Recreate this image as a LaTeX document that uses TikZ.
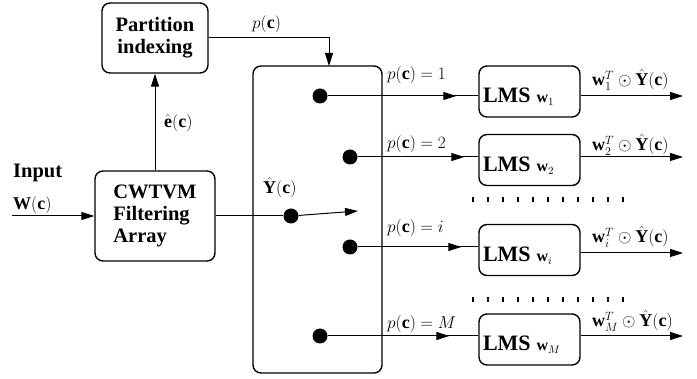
\documentclass[tikz,border=0pt]{standalone}
\usepackage{fontspec}
\setmainfont{Liberation Serif}
\usetikzlibrary{arrows.meta,decorations.markings}

\newcommand{\lmstext}[1]{{\fontsize{22}{24}\selectfont\bfseries LMS}\hspace{6pt}{\fontsize{16}{18}\selectfont$\mathbf{w}_{#1}$}}

\begin{document}
\begin{tikzpicture}[x=1pt,y=-1pt,
  blk/.style={draw,line width=1.4pt,rounded corners=8pt,inner sep=4pt},
  wire/.style={line width=1pt},
  tip/.style={-{Triangle[length=13pt,width=8pt]}},
  dotnode/.style={circle,fill=black,inner sep=0pt,minimum size=15pt},
  midtip/.style={postaction={decorate},decoration={markings,
      mark=at position #1 with {\arrow{Triangle[length=13pt,width=8pt]}}}},
  lbl/.style={inner sep=0pt,anchor=base west,font=\fontsize{18}{21}\selectfont},
  txt/.style={font=\fontsize{20.5}{22}\selectfont\bfseries},
  lms/.style={blk,minimum width=101pt,minimum height=51pt,text width=93pt,
      align=left,text height=23pt,text depth=0pt},
  tick/.style={line width=1.5pt}
]
\useasboundingbox (0,0) rectangle (697,379);

% processing blocks
\node[blk,txt,minimum width=106pt,minimum height=70pt,align=center] (part) at (155,38) {Partition\\indexing};
\node[blk,txt,minimum width=120pt,minimum height=90pt,align=left] (cwt) at (155,216) {CWTVM\\Filtering\\Array};
\node[blk,minimum width=129pt,minimum height=307pt] (sw) at (317.5,219.5) {};

\node[lms] (l1) at (529.5,91.5) {\lmstext{1}};
\node[lms] (l2) at (529.5,160) {\lmstext{2}};
\node[lms] (li) at (529.5,250) {\lmstext{i}};
\node[lms] (lM) at (529.5,339.5) {\lmstext{M}};

% switch contacts
\node[dotnode] (d0) at (291,216) {};
\node[dotnode] (d1) at (320,96) {};
\node[dotnode] (d2) at (350,157) {};
\node[dotnode] (d3) at (350,247) {};
\node[dotnode] (d4) at (320,336) {};

% free ends
\coordinate (in) at (12,216);
\coordinate (arm) at (358,211);
\coordinate (swin) at (329,66);
\coordinate (o1) at (683,96);
\coordinate (o2) at (683,157);
\coordinate (oi) at (683,253);
\coordinate (oM) at (683,336);

% connectors
\draw[wire,tip] (in) -- (cwt.west);
\draw[wire] (cwt.east) -- (d0);
\draw[wire,tip] (d0) -- (arm);
\draw[wire,tip] (cwt.north) -- (part.south);
\draw[wire,tip] (part.east) -| (swin);

\draw[wire,midtip=-22pt] (d1) -- (d1 -| l1.west);
\draw[wire,midtip=-14pt] (d2) -- (d2 -| l2.west);
\draw[wire,midtip=-17pt] (d3) -- (d3 -| li.west);
\draw[wire,midtip=-29pt] (d4) -- (d4 -| lM.west);

\draw[wire,tip] (l1.east |- o1) -- (o1);
\draw[wire,tip] (l2.east |- o2) -- (o2);
\draw[wire,tip] (li.east |- oi) -- (oi);
\draw[wire,tip] (lM.east |- oM) -- (oM);

% ellipsis rows between the LMS branches
\foreach \k in {0,...,10} {
  \draw[tick] (473+15*\k,197.5) -- ++(0,5);
  \draw[tick] (473+15*\k,297.5) -- ++(0,5);
}

% labels
\node[txt,inner sep=0pt,anchor=base west] (inlbl) at (13,178) {Input};
\node[lbl] (wlbl) at (13,210) {$\mathbf{W(c)}$};
\node[lbl] (elbl) at (164,128) {$\hat{\mathbf{e}}(\mathbf{c})$};
\node[lbl] (plbl) at (252,29) {$p(\mathbf{c})$};
\node[lbl] (ylbl) at (263,194) {$\hat{\mathbf{Y}}(\mathbf{c})$};

\node[lbl] (p1) at (387,80) {$p(\mathbf{c})=1$};
\node[lbl] (p2) at (387,149) {$p(\mathbf{c})=2$};
\node[lbl] (pi) at (387,233) {$p(\mathbf{c})=i$};
\node[lbl] (pM) at (387,329) {$p(\mathbf{c})=M$};

\node[lbl] (y1) at (592,86) {$\mathbf{w}_1^T\odot\hat{\mathbf{Y}}(\mathbf{c})$};
\node[lbl] (y2) at (592,151) {$\mathbf{w}_2^T\odot\hat{\mathbf{Y}}(\mathbf{c})$};
\node[lbl] (yi) at (592,243) {$\mathbf{w}_i^T\odot\hat{\mathbf{Y}}(\mathbf{c})$};
\node[lbl] (yM) at (592,327) {$\mathbf{w}_M^T\odot\hat{\mathbf{Y}}(\mathbf{c})$};
\end{tikzpicture}
\end{document}
